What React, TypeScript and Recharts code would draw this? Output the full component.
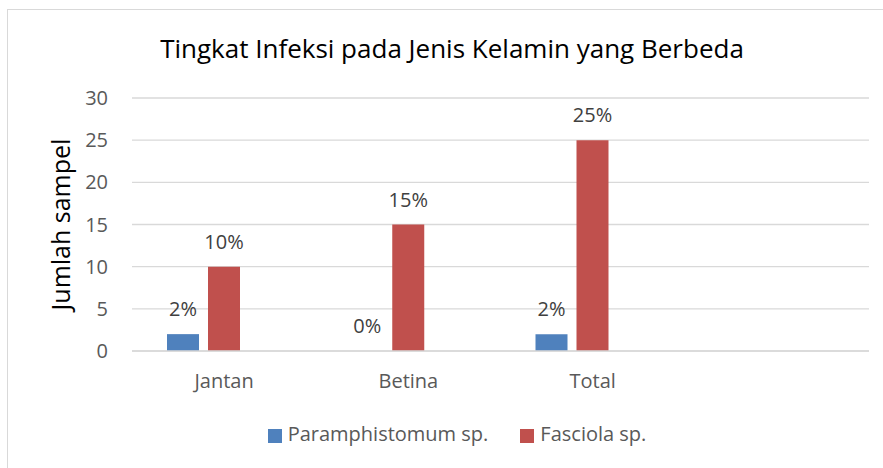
import { BarChart, Bar, XAxis, YAxis, CartesianGrid, LabelList } from 'recharts'

const categories = ['Jantan', 'Betina', 'Total', '']
const paramphistomum = [2, 0, 2, null]
const fasciola = [10, 15, 25, null]
const paramLabels = ['2%', '0%', '2%', '']
const fasciolaLabels = ['10%', '15%', '25%', '']
const yTicks = [0, 5, 10, 15, 20, 25, 30]

const series = [
  { key: 'paramphistomum', label: 'paramLabel', name: 'Paramphistomum sp.', color: '#4F81BD' },
  { key: 'fasciola', label: 'fasciolaLabel', name: 'Fasciola sp.', color: '#C0504D' },
]

const data = categories.map((name, i) => ({
  name,
  paramphistomum: paramphistomum[i],
  fasciola: fasciola[i],
  empty: null,
  paramLabel: paramLabels[i],
  fasciolaLabel: fasciolaLabels[i],
}))

const font = '"Open Sans", sans-serif'

export default function App() {
  return (
    <div style={{ position: 'relative', width: 883, height: 468, overflow: 'hidden', fontFamily: font, background: '#fff' }}>
      <style>{`body { margin: 0; }`}</style>
      <div
        style={{
          position: 'absolute',
          left: 7,
          top: 9,
          width: 920,
          height: 480,
          border: '1px solid #d9d9d9',
          boxSizing: 'border-box',
        }}
      />
      <div
        style={{
          position: 'absolute',
          left: 0,
          top: 35,
          width: 904,
          textAlign: 'center',
          fontSize: 26,
          lineHeight: '26px',
          color: '#000',
        }}
      >
        Tingkat Infeksi pada Jenis Kelamin yang Berbeda
      </div>
      <div style={{ position: 'absolute', top: 0, left: 0 }}>
        <BarChart
          width={883}
          height={468}
          data={data}
          barSize={32}
          barGap={9}
          margin={{ top: 98, right: 14, bottom: 87, left: 0 }}
        >
          <CartesianGrid vertical={false} stroke="#d9d9d9" strokeWidth={1.3} />
          <XAxis
            dataKey="name"
            height={30}
            tickLine={false}
            tickSize={0}
            tickMargin={23}
            axisLine={{ stroke: '#d9d9d9', strokeWidth: 1.3 }}
            tick={{ fill: '#595959', fontSize: 20, fontFamily: font }}
          />
          <YAxis
            domain={[0, 30]}
            ticks={yTicks}
            width={132}
            axisLine={false}
            tickLine={false}
            tickSize={0}
            tickMargin={24}
            tick={{ fill: '#595959', fontSize: 20, fontFamily: font }}
            label={{
              value: 'Jumlah sampel',
              angle: -90,
              position: 'insideLeft',
              offset: 61,
              fill: '#000',
              fontSize: 25,
              fontFamily: font,
              style: { textAnchor: 'middle' },
            }}
          />
          {series.map((s) => (
            <Bar
              key={s.key}
              dataKey={s.key}
              name={s.name}
              fill={s.color}
              minPointSize={0.01}
              isAnimationActive={false}
            >
              <LabelList dataKey={s.label} position="top" offset={18} fill="#404040" fontSize={20} fontFamily={font} />
            </Bar>
          ))}
          <Bar dataKey="empty" fill="none" legendType="none" isAnimationActive={false} />
        </BarChart>
      </div>
      <div
        style={{
          position: 'absolute',
          left: 0,
          top: 424,
          width: 914,
          display: 'flex',
          justifyContent: 'center',
          alignItems: 'center',
          fontSize: 20,
          lineHeight: '20px',
          color: '#595959',
        }}
      >
        {series.map((s, i) => (
          <div key={s.key} style={{ display: 'flex', alignItems: 'center', marginLeft: i === 0 ? 0 : 32 }}>
            <span style={{ width: 14, height: 14, background: s.color, marginRight: 6, marginTop: 3 }} />
            <span>{s.name}</span>
          </div>
        ))}
      </div>
    </div>
  )
}
